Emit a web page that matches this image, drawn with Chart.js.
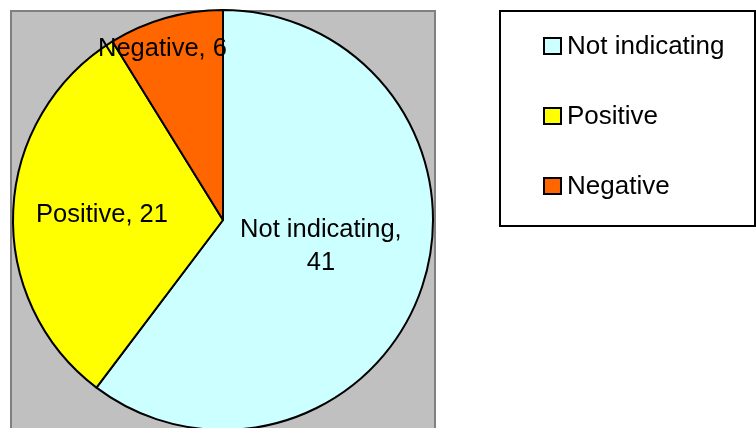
<!DOCTYPE html>
<html>
<head>
<meta charset="utf-8">
<script src="https://cdn.jsdelivr.net/npm/chart.js@4"></script>
<style>
  html, body { margin: 0; padding: 0; background: #fff; overflow: hidden; }
  #wrap { width: 756px; height: 428px; overflow: hidden; }
</style>
</head>
<body>
<div id="wrap"><canvas id="pie" width="756" height="440"></canvas></div>
<script>
// ==== DATA ====
const categories = ['Not indicating', 'Positive', 'Negative'];
const counts     = [41, 21, 6];
const colors     = ['#CCFFFF', '#FFFF00', '#FF6600'];

const FONT = '"Liberation Sans", Arial, sans-serif';

// gray plot area behind the pie
const plotArea = {
  id: 'plotArea',
  beforeDraw(chart) {
    const c = chart.ctx;
    c.save();
    c.fillStyle = '#C0C0C0';
    c.fillRect(11, 11, 424, 440);
    c.strokeStyle = '#808080';
    c.lineWidth = 2;
    c.strokeRect(11, 11, 424, 440);
    c.restore();
  }
};

// "Category, value" labels inside the slices
const sliceLabels = {
  id: 'sliceLabels',
  afterDatasetsDraw(chart, args, opts) {
    const c = chart.ctx;
    const meta = chart.getDatasetMeta(0);
    c.save();
    c.font = '25.5px ' + FONT;
    c.fillStyle = '#000';
    c.textAlign = 'center';
    c.textBaseline = 'middle';
    meta.data.forEach((arc, i) => {
      const p = arc.getProps(['x', 'y', 'startAngle', 'endAngle', 'outerRadius'], true);
      const mid = (p.startAngle + p.endAngle) / 2 + opts.turn[i] * Math.PI / 180;
      const r = p.outerRadius * opts.dist[i];
      const x = p.x + Math.cos(mid) * r;
      const y = p.y + Math.sin(mid) * r + 2;
      const lines = opts.wrap[i]
        ? [categories[i] + ',', String(counts[i])]
        : [categories[i] + ', ' + counts[i]];
      const lh = 33;
      lines.forEach((t, k) => {
        c.fillText(t, x, y + (k - (lines.length - 1) / 2) * lh);
      });
    });
    c.restore();
  }
};

// boxed legend on the right
const boxLegend = {
  id: 'boxLegend',
  afterDraw(chart) {
    const c = chart.ctx;
    c.save();
    c.fillStyle = '#fff';
    c.fillRect(500, 11, 255, 215);
    c.strokeStyle = '#000';
    c.lineWidth = 2;
    c.strokeRect(500, 11, 255, 215);
    c.font = '26px ' + FONT;
    c.textBaseline = 'middle';
    categories.forEach((name, i) => {
      const cy = 46 + i * 70;
      c.fillStyle = colors[i];
      c.fillRect(544, cy - 8, 17, 16);
      c.lineWidth = 2;
      c.strokeStyle = '#000';
      c.strokeRect(544, cy - 8, 17, 16);
      c.fillStyle = '#000';
      c.fillText(name, 567, cy + 1);
    });
    c.restore();
  }
};

new Chart(document.getElementById('pie').getContext('2d'), {
  type: 'pie',
  data: {
    labels: categories,
    datasets: [{
      data: counts,
      backgroundColor: colors,
      borderColor: '#000',
      borderWidth: 2
    }]
  },
  options: {
    responsive: false,
    animation: false,
    devicePixelRatio: 1,
    radius: 210,
    layout: { padding: { left: 13, right: 323, top: 10, bottom: 10 } },
    plugins: {
      legend: { display: false },
      tooltip: { enabled: false },
      sliceLabels: {
        dist: [0.48, 0.577, 0.873],
        turn: [-4.7, 0.5, -3.4],
        wrap: [true, false, false]
      }
    }
  },
  plugins: [plotArea, sliceLabels, boxLegend]
});
</script>
</body>
</html>
